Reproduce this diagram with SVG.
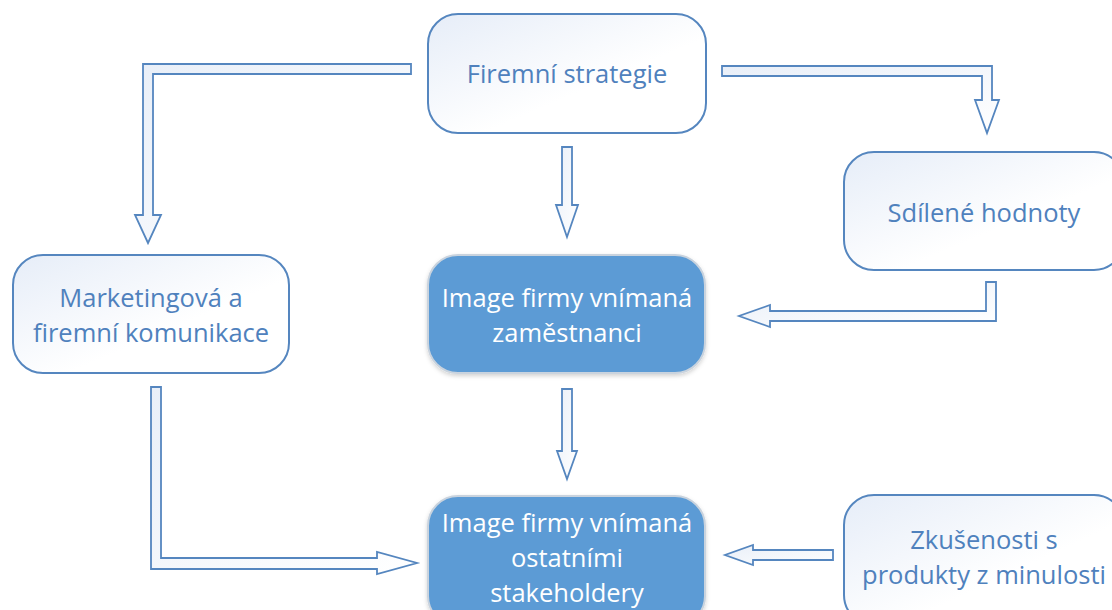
<svg xmlns="http://www.w3.org/2000/svg" width="1112" height="610" viewBox="0 0 1112 610">
<defs>
<linearGradient id="lg" x1="0" y1="0" x2="1" y2="1">
<stop offset="0" stop-color="#e6edf8"/>
<stop offset="0.6" stop-color="#ffffff"/>
<stop offset="1" stop-color="#ffffff"/>
</linearGradient>
<linearGradient id="ag" x1="0" y1="0" x2="1" y2="1">
<stop offset="0" stop-color="#e9eff8"/>
<stop offset="1" stop-color="#ffffff"/>
</linearGradient>
<filter id="sh" x="-10%" y="-10%" width="120%" height="130%">
<feDropShadow dx="0" dy="2" stdDeviation="2" flood-color="#000" flood-opacity="0.18"/>
</filter>
</defs>
<style>
.light{fill:url(#lg);stroke:#5586bf;stroke-width:2}
.dark{fill:#5b9bd5;stroke:#c9d3de;stroke-width:2}
.arrow{fill:url(#ag);stroke:#5586bf;stroke-width:1.8;stroke-linejoin:miter}
text{font-family:"Open Sans","Liberation Sans",sans-serif;font-size:25.5px;text-anchor:middle}
.lt{fill:#4f81bd}
.dt{fill:#ffffff}
</style>
<rect width="1112" height="610" fill="#ffffff"/>
<g id="connectors">
<polygon class="arrow" points="411,64 143,64 143,215 135,215 148,243 161,215 153,215 153,74 411,74"/>
<polygon class="arrow" points="722,66 992,66 992,100 999,100 987,133 975,100 982,100 982,76 722,76"/>
<polygon class="arrow" points="562,147 572,147 572,205 578,205 567,237 556,205 562,205"/>
<polygon class="arrow" points="996,282 996,321 770,321 770,327 739,316 770,305 770,311 986,311 986,282"/>
<polygon class="arrow" points="562,389 572,389 572,451 577,451 567,479 557,451 562,451"/>
<polygon class="arrow" points="151,387 161,387 161,558 377,558 377,552 417,563 377,574 377,569 151,569"/>
<polygon class="arrow" points="833,550 833,560 753,560 753,565 725,555 753,545 753,550"/>
</g>
<g id="firemni-strategie">
<rect class="light" x="428" y="14" width="278" height="119" rx="30"/>
<text class="lt" x="567" y="83">Firemní strategie</text>
</g>
<g id="sdilene-hodnoty">
<rect class="light" x="844" y="152" width="280" height="118" rx="30"/>
<text class="lt" x="984" y="222">Sdílené hodnoty</text>
</g>
<g id="marketingova">
<rect class="light" x="13" y="255" width="276" height="118" rx="30"/>
<text class="lt" x="151" y="307">Marketingová a</text>
<text class="lt" x="151" y="342">firemní komunikace</text>
</g>
<g id="image-zamestnanci">
<rect class="dark" x="428" y="255" width="277" height="118" rx="30" filter="url(#sh)"/>
<text class="dt" x="567" y="307">Image firmy vnímaná</text>
<text class="dt" x="567" y="342">zaměstnanci</text>
</g>
<g id="image-stakeholdery">
<rect class="dark" x="428" y="496" width="277" height="130" rx="30" filter="url(#sh)"/>
<text class="dt" x="567" y="532">Image firmy vnímaná</text>
<text class="dt" x="567" y="567">ostatními</text>
<text class="dt" x="567" y="602">stakeholdery</text>
</g>
<g id="zkusenosti">
<rect class="light" x="844" y="495" width="280" height="130" rx="30"/>
<text class="lt" x="984" y="549">Zkušenosti s</text>
<text class="lt" x="984" y="584">produkty z minulosti</text>
</g>
</svg>
